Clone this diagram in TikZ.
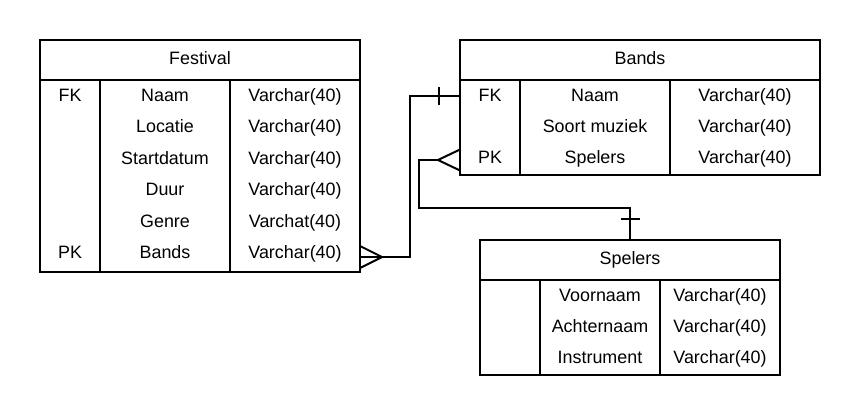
\documentclass[tikz,border=0pt]{standalone}
\usepackage{fontspec}
\setmainfont{Liberation Sans}
\begin{document}
\begin{tikzpicture}[x=1pt,y=-1pt,line width=2pt,
  box/.style={draw,line width=2pt,inner sep=0pt,outer sep=0pt},
  txt/.style={font=\fontsize{17.9}{20}\selectfont,inner sep=0pt,anchor=base},
  conn/.style={draw,line width=2pt}]
\useasboundingbox[fill=white] (0,0) rectangle (860,416);

% ---------- Festival ----------
\node[box,minimum width=320pt,minimum height=232pt] (fest) at (200,156) {};
\draw (40,80) -- (360,80);
\draw (100,80) -- (100,272);
\draw (230,80) -- (230,272);
\node[txt] (festH) at (200,64) {Festival};
\node[txt] (f1k) at (70,101.5) {FK};
\node[txt] (f1n) at (165,101.5) {Naam};
\node[txt] (f1t) at (295,101.5) {Varchar(40)};
\node[txt] (f2n) at (165,132.9) {Locatie};
\node[txt] (f2t) at (295,132.9) {Varchar(40)};
\node[txt] (f3n) at (165,164.3) {Startdatum};
\node[txt] (f3t) at (295,164.3) {Varchar(40)};
\node[txt] (f4n) at (165,195.7) {Duur};
\node[txt] (f4t) at (295,195.7) {Varchar(40)};
\node[txt] (f5n) at (165,227.1) {Genre};
\node[txt] (f5t) at (295,227.1) {Varchat(40)};
\node[txt] (f6k) at (70,258.5) {PK};
\node[txt] (f6n) at (165,258.5) {Bands};
\node[txt] (f6t) at (295,258.5) {Varchar(40)};

% ---------- Bands ----------
\node[box,minimum width=360pt,minimum height=135pt] (bands) at (640,107.5) {};
\draw (460,80) -- (820,80);
\draw (520,80) -- (520,175);
\draw (670,80) -- (670,175);
\node[txt] (bandsH) at (640,64) {Bands};
\node[txt] (b1k) at (490,101.5) {FK};
\node[txt] (b1n) at (595,101.5) {Naam};
\node[txt] (b1t) at (745,101.5) {Varchar(40)};
\node[txt] (b2n) at (595,132.5) {Soort muziek};
\node[txt] (b2t) at (745,132.5) {Varchar(40)};
\node[txt] (b3k) at (490,163.5) {PK};
\node[txt] (b3n) at (595,163.5) {Spelers};
\node[txt] (b3t) at (745,163.5) {Varchar(40)};

% ---------- Spelers ----------
\node[box,minimum width=300pt,minimum height=135pt] (spel) at (630,307.5) {};
\draw (480,280) -- (780,280);
\draw (540,280) -- (540,375);
\draw (660,280) -- (660,375);
\node[txt] (spelH) at (630,264) {Spelers};
\node[txt] (s1n) at (600,301.5) {Voornaam};
\node[txt] (s1t) at (720,301.5) {Varchar(40)};
\node[txt] (s2n) at (600,332.5) {Achternaam};
\node[txt] (s2t) at (720,332.5) {Varchar(40)};
\node[txt] (s3n) at (600,363.5) {Instrument};
\node[txt] (s3t) at (720,363.5) {Varchar(40)};

% ---------- connector Festival -> Bands ----------
\coordinate (fa) at (360,257);
\coordinate (ba) at (460,96);
\path[conn] (fa) -- (410,257) -- (410,96) -- (ba);
\path[conn] (360,246) -- (382,257) -- (360,268);
\path[conn] (439,87) -- (439,105);

% ---------- connector Bands -> Spelers ----------
\coordinate (bb) at (460,160);
\coordinate (sb) at (630,240);
\path[conn] (460,149.5) -- (438,160) -- (460,170.5);
\path[conn] (438,160) -- (419,160) -- (419,208) -- (630,208) -- (sb);
\path[conn] (621,219) -- (640,219);
\end{tikzpicture}
\end{document}
